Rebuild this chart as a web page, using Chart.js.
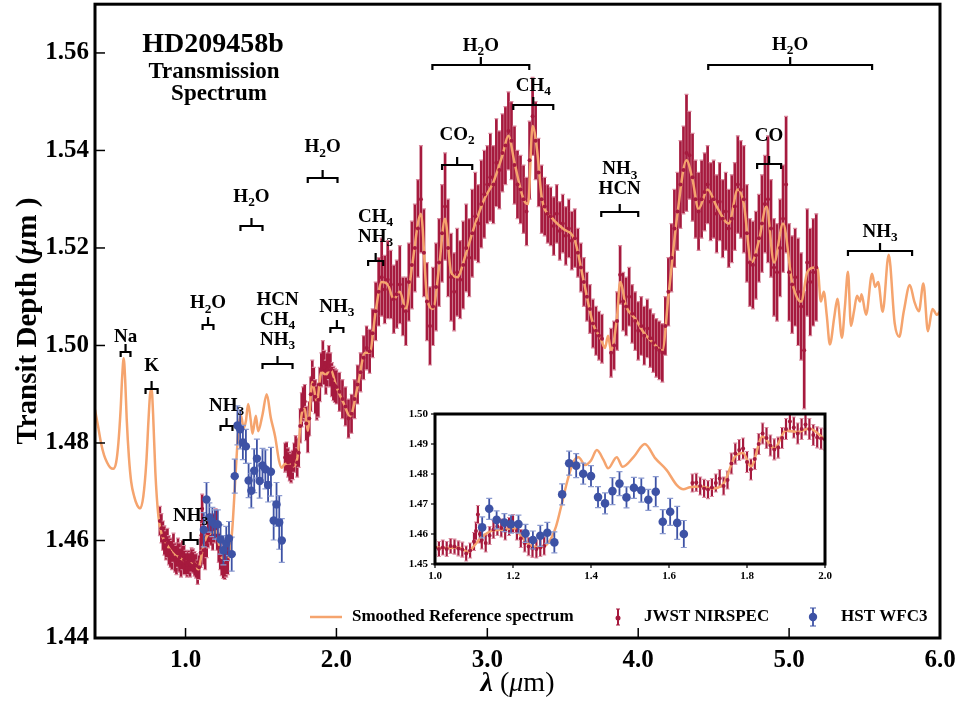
<!DOCTYPE html>
<html>
<head>
<meta charset="utf-8">
<script src="https://cdn.jsdelivr.net/npm/chart.js@4.4.1/dist/chart.umd.min.js"></script>
<style>
  body { margin: 0; background: #fff; }
  #wrap { position: relative; width: 965px; height: 702px; }
  #main { position: absolute; left: 0; top: 0; }
  #inset { position: absolute; left: 395px; top: 404px; }
</style>
</head>
<body>
<div id="wrap">
  <canvas id="main" width="965" height="702"></canvas>
  <canvas id="inset" width="440" height="180"></canvas>
</div>
<script>
// smoothed reference model spectrum (micron, transit depth)
var refWave = [0.40, 0.42, 0.44, 0.46, 0.48, 0.50, 0.52, 0.54, 0.555, 0.57,
  0.58, 0.59, 0.60, 0.61, 0.625, 0.64, 0.66, 0.68, 0.70, 0.72,
  0.74, 0.755, 0.765, 0.775, 0.785, 0.80, 0.82, 0.84, 0.87, 0.90,
  0.93, 0.96, 1.00, 1.03, 1.06, 1.085, 1.10, 1.12, 1.15, 1.18,
  1.20, 1.22, 1.24, 1.27, 1.29, 1.31, 1.325, 1.34, 1.355, 1.368,
  1.385, 1.40, 1.415, 1.432, 1.444, 1.466, 1.481, 1.51, 1.538, 1.565,
  1.594, 1.62, 1.637, 1.654, 1.68, 1.71, 1.74, 1.77, 1.79, 1.81,
  1.84, 1.87, 1.90, 1.93, 1.96, 2.00, 2.05, 2.09, 2.14, 2.19,
  2.22, 2.26, 2.30, 2.34, 2.38, 2.42, 2.46, 2.50, 2.56, 2.60,
  2.64, 2.68, 2.72, 2.76, 2.80, 2.86, 2.92, 2.98, 3.04, 3.10,
  3.14, 3.18, 3.24, 3.27, 3.30, 3.33, 3.36, 3.42, 3.50, 3.58,
  3.64, 3.70, 3.75, 3.78, 3.80, 3.82, 3.86, 3.88, 3.92, 3.98,
  4.04, 4.10, 4.16, 4.20, 4.26, 4.32, 4.36, 4.40, 4.46, 4.52,
  4.60, 4.66, 4.70, 4.75, 4.80, 4.85, 4.90, 4.96, 5.02, 5.08,
  5.12, 5.17, 5.19, 5.21, 5.23, 5.25, 5.27, 5.30, 5.32, 5.35,
  5.37, 5.39, 5.41, 5.43, 5.45, 5.47, 5.48, 5.51, 5.55, 5.57,
  5.59, 5.62, 5.66, 5.70, 5.73, 5.76, 5.80, 5.83, 5.86, 5.89,
  5.92, 5.95, 5.98, 6.00];
var refDepth = [1.4868, 1.4835, 1.4800, 1.4775, 1.4760, 1.4750, 1.4747, 1.4760, 1.4800, 1.4870,
  1.4935, 1.4974, 1.4930, 1.4850, 1.4770, 1.4720, 1.4690, 1.4672, 1.4666, 1.4690,
  1.4760, 1.4850, 1.4900, 1.4910, 1.4860, 1.4740, 1.4650, 1.4615, 1.4595, 1.4580,
  1.4570, 1.4565, 1.4556, 1.4553, 1.4555, 1.4540, 1.4560, 1.4590, 1.4612, 1.4615,
  1.4620, 1.4595, 1.4565, 1.4556, 1.4570, 1.4624, 1.4700, 1.4780, 1.4841, 1.4856,
  1.4830, 1.4845, 1.4880, 1.4847, 1.4819, 1.4856, 1.4824, 1.4858, 1.4900, 1.4852,
  1.4813, 1.4763, 1.4749, 1.4756, 1.4758, 1.4752, 1.4768, 1.4860, 1.4870, 1.4825,
  1.4925, 1.4885, 1.4945, 1.4940, 1.4952, 1.4915, 1.4880, 1.4855, 1.4915, 1.4985,
  1.4985, 1.5070, 1.5130, 1.5125, 1.5095, 1.5110, 1.5075, 1.5160, 1.5270, 1.5100,
  1.5075, 1.5160, 1.5260, 1.5150, 1.5140, 1.5190, 1.5250, 1.5300, 1.5335, 1.5390,
  1.5430, 1.5375, 1.5300, 1.5290, 1.5450, 1.5400, 1.5305, 1.5265, 1.5240, 1.5215,
  1.5130, 1.5045, 1.5015, 1.4995, 1.5020, 1.4990, 1.5060, 1.5130, 1.5080, 1.5055,
  1.5025, 1.5005, 1.4990, 1.5100, 1.5270, 1.5380, 1.5340, 1.5280, 1.5320, 1.5285,
  1.5250, 1.5320, 1.5290, 1.5170, 1.5215, 1.5285, 1.5170, 1.5250, 1.5130, 1.5090,
  1.5150, 1.5160, 1.5157, 1.5090, 1.5110, 1.5060, 1.5002, 1.5060, 1.5096, 1.5016,
  1.5080, 1.5151, 1.5040, 1.5070, 1.5102, 1.5090, 1.5105, 1.5063, 1.5147, 1.5120,
  1.5130, 1.5069, 1.5186, 1.5045, 1.5018, 1.5070, 1.5124, 1.5090, 1.5070, 1.5127,
  1.5029, 1.5075, 1.5063, 1.5070];

// JWST NIRSpec points
var jwstWave = [0.83, 0.84, 0.85, 0.86, 0.87, 0.88, 0.89, 0.90, 0.91, 0.92,
  0.93, 0.94, 0.95, 0.96, 0.97, 0.98, 0.99, 1.00, 1.01, 1.02,
  1.03, 1.04, 1.05, 1.06, 1.07, 1.08, 1.09, 1.10, 1.105, 1.11,
  1.115, 1.12, 1.13, 1.14, 1.15, 1.16, 1.17, 1.18, 1.19, 1.20,
  1.21, 1.22, 1.23, 1.24, 1.25, 1.26, 1.27, 1.28,
  1.66, 1.67, 1.68, 1.69, 1.70, 1.71, 1.72, 1.73, 1.74, 1.75,
  1.76, 1.77, 1.78, 1.79, 1.80, 1.81, 1.82, 1.83, 1.84, 1.85,
  1.86, 1.87, 1.88, 1.89, 1.90, 1.91, 1.92, 1.93, 1.94, 1.95,
  1.96, 1.97, 1.98, 1.99, 2.00,
  2.02, 2.04, 2.06, 2.08, 2.10, 2.12, 2.14, 2.16, 2.18, 2.20,
  2.22, 2.24, 2.26, 2.28, 2.30, 2.32, 2.34, 2.36, 2.38, 2.40,
  2.42, 2.44, 2.46, 2.48, 2.50, 2.52, 2.54, 2.56, 2.58, 2.60,
  2.62, 2.64, 2.66, 2.68, 2.70, 2.72, 2.74, 2.76, 2.78, 2.80,
  2.82, 2.84, 2.86, 2.88, 2.90, 2.92, 2.94, 2.96, 2.98, 3.00,
  3.02, 3.04, 3.06, 3.08, 3.10, 3.12, 3.14, 3.16, 3.18, 3.20,
  3.22, 3.24, 3.26, 3.28, 3.30, 3.32, 3.34, 3.36, 3.38, 3.40,
  3.42, 3.44, 3.46, 3.48, 3.50, 3.52, 3.54, 3.56, 3.58, 3.60,
  3.62, 3.64, 3.66, 3.68, 3.70, 3.72, 3.74, 3.76, 3.82, 3.84,
  3.86, 3.88, 3.90, 3.92, 3.94, 3.96, 3.98, 4.00, 4.02, 4.04,
  4.06, 4.08, 4.10, 4.12, 4.14, 4.16, 4.18, 4.20, 4.22, 4.24,
  4.26, 4.28, 4.30, 4.32, 4.34, 4.36, 4.38, 4.40, 4.42, 4.44,
  4.46, 4.48, 4.50, 4.52, 4.54, 4.56, 4.58, 4.60, 4.62, 4.64,
  4.66, 4.68, 4.70, 4.72, 4.74, 4.76, 4.78, 4.80, 4.82, 4.84,
  4.86, 4.88, 4.90, 4.92, 4.94, 4.96, 4.98, 5.00, 5.02, 5.04,
  5.06, 5.08, 5.10, 5.12, 5.14, 5.16, 5.18];
var jwstDepth = [1.4640, 1.4625, 1.4610, 1.4600, 1.4590, 1.4595, 1.4580, 1.4575, 1.4570, 1.4585,
  1.4565, 1.4560, 1.4575, 1.4565, 1.4555, 1.4570, 1.4560, 1.4555, 1.4550, 1.4555,
  1.4550, 1.4560, 1.4558, 1.4552, 1.4548, 1.4535, 1.4545, 1.4575, 1.4610, 1.4665,
  1.4600, 1.4580, 1.4570, 1.4595, 1.4615, 1.4625, 1.4620, 1.4610, 1.4625, 1.4635,
  1.4610, 1.4585, 1.4570, 1.4558, 1.4552, 1.4550, 1.4555, 1.4560,
  1.4770, 1.4772, 1.4760, 1.4752, 1.4748, 1.4755, 1.4770, 1.4785, 1.4760, 1.4780,
  1.4835, 1.4868, 1.4880, 1.4885, 1.4840, 1.4815, 1.4850, 1.4900, 1.4935, 1.4920,
  1.4895, 1.4882, 1.4888, 1.4920, 1.4950, 1.4975, 1.4955, 1.4935, 1.4950, 1.4965,
  1.4950, 1.4930, 1.4922, 1.4918, 1.4915,
  1.4905, 1.4890, 1.4875, 1.4850, 1.4860, 1.4890, 1.4920, 1.4945, 1.4975, 1.4995,
  1.4988, 1.5025, 1.5070, 1.5110, 1.5140, 1.5115, 1.5135, 1.5125, 1.5095, 1.5105,
  1.5125, 1.5080, 1.5070, 1.5130, 1.5165, 1.5200, 1.5240, 1.5300, 1.5190, 1.5090,
  1.5040, 1.5080, 1.5120, 1.5170, 1.5230, 1.5285, 1.5200, 1.5140, 1.5110, 1.5150,
  1.5135, 1.5165, 1.5200, 1.5180, 1.5230, 1.5265, 1.5250, 1.5290, 1.5310, 1.5330,
  1.5345, 1.5330, 1.5375, 1.5360, 1.5395, 1.5410, 1.5440, 1.5420, 1.5370, 1.5330,
  1.5320, 1.5300, 1.5275, 1.5380, 1.5470, 1.5420, 1.5355, 1.5300, 1.5285, 1.5270,
  1.5265, 1.5245, 1.5270, 1.5235, 1.5250, 1.5225, 1.5240, 1.5215, 1.5220, 1.5190,
  1.5160, 1.5130, 1.5100, 1.5075, 1.5045, 1.5030, 1.5020, 1.5014, 1.4985, 1.5000,
  1.5050, 1.5145, 1.5090, 1.5080, 1.5100, 1.5065, 1.5050, 1.5030, 1.5040, 1.5020,
  1.5035, 1.5015, 1.5005, 1.4995, 1.4990, 1.4985, 1.5040, 1.5110, 1.5180, 1.5240,
  1.5275, 1.5330, 1.5360, 1.5395, 1.5390, 1.5345, 1.5300, 1.5275, 1.5300, 1.5315,
  1.5330, 1.5295, 1.5300, 1.5270, 1.5295, 1.5260, 1.5275, 1.5240, 1.5260, 1.5285,
  1.5330, 1.5320, 1.5300, 1.5230, 1.5170, 1.5165, 1.5185, 1.5220, 1.5250, 1.5290,
  1.5300, 1.5240, 1.5160, 1.5150, 1.5200, 1.5260, 1.5330, 1.5150, 1.5125, 1.5140,
  1.5110, 1.5080, 1.4990, 1.5170, 1.5130, 1.5150, 1.5160];
var jwstErr = [0.003, 0.003, 0.003, 0.003, 0.003, 0.003, 0.003, 0.003, 0.003, 0.003,
  0.003, 0.003, 0.003, 0.003, 0.003, 0.003, 0.003, 0.0025, 0.0025, 0.0025,
  0.0025, 0.0025, 0.0025, 0.0025, 0.0025, 0.0025, 0.0025, 0.003, 0.003, 0.003,
  0.003, 0.003, 0.003, 0.003, 0.003, 0.003, 0.003, 0.003, 0.003, 0.003,
  0.003, 0.003, 0.003, 0.003, 0.003, 0.003, 0.003, 0.003,
  0.003, 0.003, 0.003, 0.003, 0.003, 0.003, 0.003, 0.003, 0.003, 0.003,
  0.0035, 0.0035, 0.0035, 0.0035, 0.0035, 0.0035, 0.0035, 0.0035, 0.0035, 0.0035,
  0.0035, 0.0035, 0.0035, 0.0035, 0.0035, 0.0035, 0.0035, 0.0035, 0.0035, 0.0035,
  0.0035, 0.0035, 0.0035, 0.0035, 0.0035,
  0.004, 0.004, 0.004, 0.004, 0.004, 0.004, 0.004, 0.004, 0.0045, 0.0045,
  0.0045, 0.005, 0.006, 0.007, 0.008, 0.007, 0.008, 0.007, 0.007, 0.007,
  0.008, 0.006, 0.007, 0.008, 0.009, 0.009, 0.010, 0.011, 0.009, 0.008,
  0.008, 0.008, 0.009, 0.009, 0.010, 0.011, 0.010, 0.009, 0.008, 0.009,
  0.008, 0.009, 0.009, 0.008, 0.009, 0.009, 0.008, 0.009, 0.009, 0.008,
  0.009, 0.008, 0.009, 0.008, 0.008, 0.008, 0.008, 0.008, 0.008, 0.007,
  0.007, 0.007, 0.007, 0.008, 0.008, 0.008, 0.007, 0.007, 0.006, 0.006,
  0.006, 0.006, 0.006, 0.006, 0.006, 0.006, 0.006, 0.006, 0.006, 0.005,
  0.005, 0.005, 0.005, 0.005, 0.005, 0.005, 0.005, 0.005, 0.005, 0.005,
  0.006, 0.006, 0.006, 0.006, 0.006, 0.006, 0.006, 0.006, 0.006, 0.006,
  0.006, 0.006, 0.006, 0.006, 0.006, 0.006, 0.006, 0.007, 0.007, 0.008,
  0.008, 0.009, 0.009, 0.012, 0.009, 0.009, 0.008, 0.008, 0.008, 0.008,
  0.008, 0.008, 0.008, 0.008, 0.008, 0.008, 0.008, 0.008, 0.009, 0.009,
  0.010, 0.010, 0.011, 0.010, 0.009, 0.009, 0.009, 0.009, 0.010, 0.010,
  0.013, 0.010, 0.010, 0.010, 0.010, 0.011, 0.014, 0.010, 0.010, 0.010,
  0.011, 0.011, 0.012, 0.011, 0.011, 0.011, 0.011];

// HST WFC3 points
var hstWave = [1.121, 1.139, 1.158, 1.178, 1.195, 1.214, 1.232, 1.251, 1.270, 1.288,
  1.306, 1.326, 1.344, 1.362, 1.380, 1.400, 1.418, 1.436, 1.455, 1.473,
  1.491, 1.510, 1.529, 1.547, 1.566, 1.584, 1.603, 1.621, 1.638];
var hstDepth = [1.4622, 1.4684, 1.4647, 1.4638, 1.4633, 1.4633, 1.4602, 1.4580, 1.4594, 1.4604,
  1.4572, 1.4732, 1.4836, 1.4828, 1.4801, 1.4793, 1.4723, 1.4702, 1.4743, 1.4768,
  1.4722, 1.4754, 1.4746, 1.4714, 1.4741, 1.4641, 1.4674, 1.4637, 1.4600];
var hstErr = [0.0035, 0.0035, 0.003, 0.003, 0.003, 0.003, 0.003, 0.003, 0.0035, 0.0035,
  0.0035, 0.0035, 0.004, 0.004, 0.0035, 0.0035, 0.0035, 0.0035, 0.0045, 0.004,
  0.0035, 0.0035, 0.004, 0.0035, 0.005, 0.004, 0.0045, 0.0055, 0.0045];

// molecule markers: label lines, wavelength span, bracket level, label baseline
var featureNames = [['Na'], ['K'], ['H_2O'], ['HCN', 'CH_4', 'NH_3'], ['NH_3'], ['NH_3'], ['NH_3'],
  ['H_2O'], ['H_2O'], ['CH_4', 'NH_3'], ['CO_2'], ['H_2O'], ['CH_4'], ['NH_3', 'HCN'],
  ['H_2O'], ['CO'], ['NH_3']];
var featureFrom = [0.57, 0.735, 1.113, 1.51, 1.96, 1.232, 0.987, 1.364, 1.81, 2.21, 2.70, 2.636, 3.172, 3.755, 4.464, 4.788, 5.39];
var featureTo = [0.635, 0.815, 1.185, 1.709, 2.046, 1.311, 1.08, 1.51, 2.007, 2.31, 2.90, 3.278, 3.437, 4.0, 5.55, 4.947, 5.815];
var featureLevel = [1.4986, 1.4910, 1.5043, 1.4963, 1.5035, 1.4835, 1.4600, 1.5245, 1.5343, 1.5173, 1.5371, 1.5576, 1.5494, 1.5273, 1.5576, 1.5373, 1.5194];
var featureText = [1.5008, 1.4947, 1.5076, 1.5002, 1.5069, 1.4865, 1.4641, 1.5294, 1.5396, 1.5212, 1.5422, 1.5604, 1.5522, 1.5310, 1.5606, 1.5420, 1.5222];

var xTicks = [1, 2, 3, 4, 5, 6];
var yTicks = [1.44, 1.46, 1.48, 1.50, 1.52, 1.54, 1.56];
var insetXTicks = [1.0, 1.2, 1.4, 1.6, 1.8, 2.0];
var insetYTicks = [1.45, 1.46, 1.47, 1.48, 1.49, 1.50];
var legendNames = ['Smoothed Reference spectrum', 'JWST NIRSPEC', 'HST WFC3'];

var FONT = "'Liberation Serif', 'DejaVu Serif', serif";
var RED = '#A61A3E', RED_CAP = '#D98A9E', ORANGE = '#F5A46E', BLUE = '#3D52A5', BLUE_CAP = '#8C9BD0';

Chart.defaults.font.family = FONT;
Chart.defaults.color = '#000';

function toPoints(xs, ys) {
    return xs.map(function (x, i) { return { x: x, y: ys[i] }; });
}

function fontStr(size, weight, style) {
    return (style || 'normal') + ' ' + (weight || 'bold') + ' ' + size + 'px ' + FONT;
}

// text with "_" subscripts, centred on cx
function drawRich(ctx, str, cx, baseline, size) {
    var runs = [], i = 0;
    while (i < str.length) {
        if (str[i] === '_') {
            runs.push({ t: str[i + 1], sub: true });
            i += 2;
        } else {
            var j = i;
            while (j < str.length && str[j] !== '_') j++;
            runs.push({ t: str.slice(i, j), sub: false });
            i = j;
        }
    }
    var total = 0;
    runs.forEach(function (r) {
        ctx.font = fontStr(r.sub ? size * 0.7 : size);
        r.w = ctx.measureText(r.t).width;
        total += r.w;
    });
    var x = cx - total / 2;
    ctx.textAlign = 'left';
    ctx.textBaseline = 'alphabetic';
    runs.forEach(function (r) {
        ctx.font = fontStr(r.sub ? size * 0.7 : size);
        ctx.fillText(r.t, x, baseline + (r.sub ? size * 0.22 : 0));
        x += r.w;
    });
}

// runs of text with their own fonts, centred on cx
function drawRuns(ctx, runs, cx, baseline) {
    var total = 0;
    runs.forEach(function (r) { ctx.font = r.f; r.w = ctx.measureText(r.t).width; total += r.w; });
    var x = cx - total / 2;
    ctx.textAlign = 'left';
    ctx.textBaseline = 'alphabetic';
    runs.forEach(function (r) { ctx.font = r.f; ctx.fillText(r.t, x, baseline); x += r.w; });
}

function drawErrors(chart, ds, st) {
    var ctx = chart.ctx, a = chart.chartArea, xs = chart.scales.x, ys = chart.scales.y;
    ctx.save();
    ctx.beginPath();
    ctx.rect(a.left, a.top, a.right - a.left, a.bottom - a.top);
    ctx.clip();
    ds.data.forEach(function (p, i) {
        var px = xs.getPixelForValue(p.x);
        if (px < a.left - 6 || px > a.right + 6) return;
        var t = ys.getPixelForValue(p.y + ds.errors[i]);
        var b = ys.getPixelForValue(p.y - ds.errors[i]);
        ctx.strokeStyle = st.color;
        ctx.lineWidth = st.width;
        ctx.beginPath();
        ctx.moveTo(px, t);
        ctx.lineTo(px, b);
        ctx.stroke();
        ctx.strokeStyle = st.cap;
        ctx.lineWidth = 1.2;
        ctx.beginPath();
        ctx.moveTo(px - st.capW, t); ctx.lineTo(px + st.capW, t);
        ctx.moveTo(px - st.capW, b); ctx.lineTo(px + st.capW, b);
        ctx.stroke();
    });
    ctx.restore();
}

var errorBarPlugin = {
    id: 'errorBars',
    beforeDatasetsDraw: function (chart, args, o) {
        chart.data.datasets.forEach(function (ds) {
            if (ds.errKind === 'under') drawErrors(chart, ds, o.jwst);
        });
    },
    beforeDatasetDraw: function (chart, args, o) {
        var ds = chart.data.datasets[args.index];
        if (ds.errKind === 'over') drawErrors(chart, ds, o.hst);
    }
};

var panelPlugin = {
    id: 'panel',
    beforeDraw: function (chart) {
        var a = chart.chartArea, ctx = chart.ctx;
        ctx.save();
        ctx.fillStyle = '#fff';
        ctx.fillRect(a.left, a.top, a.right - a.left, a.bottom - a.top);
        ctx.restore();
    },
    afterDraw: function (chart, args, o) {
        var ctx = chart.ctx, a = chart.chartArea;
        var d = o.inward ? 1 : -1;
        ctx.save();
        ctx.strokeStyle = '#000';
        ctx.lineWidth = o.tickWidth;
        chart.scales.x.ticks.forEach(function (t) {
            var px = chart.scales.x.getPixelForValue(t.value);
            ctx.beginPath();
            ctx.moveTo(px, a.bottom);
            ctx.lineTo(px, a.bottom - d * o.tickLen);
            ctx.stroke();
        });
        chart.scales.y.ticks.forEach(function (t) {
            var py = chart.scales.y.getPixelForValue(t.value);
            ctx.beginPath();
            ctx.moveTo(a.left, py);
            ctx.lineTo(a.left + d * o.tickLen, py);
            ctx.stroke();
        });
        ctx.lineWidth = o.border;
        ctx.strokeRect(a.left, a.top, a.right - a.left, a.bottom - a.top);
        ctx.restore();
    }
};

var decorPlugin = {
    id: 'decor',
    afterDatasetsDraw: function (chart) {
        var ctx = chart.ctx, a = chart.chartArea, xs = chart.scales.x, ys = chart.scales.y;
        ctx.save();
        ctx.fillStyle = '#000';
        ctx.strokeStyle = '#000';

        // molecule brackets
        ctx.lineWidth = 2.2;
        featureNames.forEach(function (lines, i) {
            var x1 = xs.getPixelForValue(featureFrom[i]);
            var x2 = xs.getPixelForValue(featureTo[i]);
            var y = Math.round(ys.getPixelForValue(featureLevel[i]));
            var xc = (x1 + x2) / 2;
            ctx.beginPath();
            ctx.moveTo(x1, y + 5); ctx.lineTo(x1, y); ctx.lineTo(x2, y); ctx.lineTo(x2, y + 5);
            ctx.moveTo(xc, y); ctx.lineTo(xc, y - 8);
            ctx.stroke();
            var base = ys.getPixelForValue(featureText[i]);
            for (var k = lines.length - 1; k >= 0; k--) {
                drawRich(ctx, lines[k], xc, base - (lines.length - 1 - k) * 20, 19);
            }
        });

        // title block
        ctx.textAlign = 'center';
        ctx.textBaseline = 'alphabetic';
        ctx.font = fontStr(28);
        ctx.fillText('HD209458b', a.left + 118, a.top + 48);
        ctx.font = fontStr(23);
        ctx.fillText('Transmission', a.left + 119, a.top + 74);
        ctx.fillText('Spectrum', a.left + 124, a.top + 96);

        // legend
        var ly = a.bottom - 21;
        ctx.strokeStyle = ORANGE;
        ctx.lineWidth = 2.5;
        ctx.beginPath(); ctx.moveTo(310, ly); ctx.lineTo(342, ly); ctx.stroke();
        ctx.strokeStyle = RED; ctx.lineWidth = 2;
        ctx.beginPath(); ctx.moveTo(618, ly - 8); ctx.lineTo(618, ly + 8); ctx.stroke();
        ctx.lineWidth = 1.2;
        ctx.beginPath(); ctx.moveTo(616, ly - 8); ctx.lineTo(620, ly - 8); ctx.moveTo(616, ly + 8); ctx.lineTo(620, ly + 8); ctx.stroke();
        ctx.fillStyle = RED;
        ctx.beginPath(); ctx.arc(618, ly + 1, 2.5, 0, Math.PI * 2); ctx.fill();
        ctx.strokeStyle = BLUE; ctx.lineWidth = 1.8;
        ctx.beginPath(); ctx.moveTo(813, ly - 9); ctx.lineTo(813, ly + 9); ctx.stroke();
        ctx.lineWidth = 1.2;
        ctx.beginPath(); ctx.moveTo(810, ly - 9); ctx.lineTo(816, ly - 9); ctx.moveTo(810, ly + 9); ctx.lineTo(816, ly + 9); ctx.stroke();
        ctx.fillStyle = BLUE;
        ctx.beginPath(); ctx.arc(813, ly, 4.2, 0, Math.PI * 2); ctx.fill();
        ctx.fillStyle = '#000';
        ctx.font = fontStr(17);
        ctx.textAlign = 'left';
        ctx.textBaseline = 'middle';
        ctx.fillText(legendNames[0], 352, ly);
        ctx.fillText(legendNames[1], 644, ly);
        ctx.fillText(legendNames[2], 841, ly);

        // axis titles
        drawRuns(ctx, [
            { t: '\u03bb', f: fontStr(28, 'bold', 'italic') },
            { t: ' (', f: fontStr(28, 'normal') },
            { t: '\u03bc', f: fontStr(28, 'normal', 'italic') },
            { t: 'm)', f: fontStr(28, 'normal') }
        ], (a.left + a.right) / 2, 691);
        ctx.translate(36, (a.top + a.bottom) / 2);
        ctx.rotate(-Math.PI / 2);
        drawRuns(ctx, [
            { t: 'Transit Depth (', f: fontStr(29) },
            { t: '\u03bc', f: fontStr(29, 'bold', 'italic') },
            { t: 'm )', f: fontStr(29) }
        ], 0, 0);
        ctx.restore();
    }
};

function buildDatasets(dotR, hstR) {
    return [
        {
            label: legendNames[0],
            data: toPoints(refWave, refDepth),
            showLine: true,
            borderColor: ORANGE,
            borderWidth: 2.5,
            pointRadius: 0,
            cubicInterpolationMode: 'monotone',
            order: 2
        },
        {
            label: legendNames[1],
            data: toPoints(jwstWave, jwstDepth),
            errors: jwstErr,
            errKind: 'under',
            showLine: false,
            pointRadius: dotR,
            pointBackgroundColor: RED,
            pointBorderWidth: 0,
            order: 1
        },
        {
            label: legendNames[2],
            data: toPoints(hstWave, hstDepth),
            errors: hstErr,
            errKind: 'over',
            showLine: false,
            pointRadius: hstR,
            pointBackgroundColor: BLUE,
            pointBorderWidth: 0,
            order: 0
        }
    ];
}

// drop the label overhang padding so the plot box sits where the axes say
function noOverhang(s) {
    s.paddingTop = 0;
    s.paddingBottom = 0;
    s.paddingLeft = 0;
    s.paddingRight = 0;
}

new Chart(document.getElementById('main'), {
    type: 'scatter',
    data: { datasets: buildDatasets(2, 4.2) },
    plugins: [errorBarPlugin, decorPlugin, panelPlugin],
    options: {
        responsive: false,
        animation: false,
        devicePixelRatio: 1,
        events: [],
        layout: { padding: { top: 2, right: 25, left: 0, bottom: 0 } },
        plugins: {
            legend: { display: false },
            tooltip: { enabled: false },
            errorBars: {
                jwst: { color: RED, cap: RED_CAP, width: 2.7, capW: 2 },
                hst: { color: BLUE, cap: BLUE_CAP, width: 1.8, capW: 3 }
            },
            panel: { inward: true, tickLen: 10, tickWidth: 1.5, border: 3 }
        },
        scales: {
            x: {
                type: 'linear',
                min: 0.4,
                max: 6.0,
                afterBuildTicks: function (s) { s.ticks = xTicks.map(function (v) { return { value: v }; }); },
                afterFit: function (s) { s.height = 64; noOverhang(s); },
                grid: { display: false, drawTicks: false },
                border: { display: false },
                ticks: {
                    padding: 8,
                    autoSkip: false,
                    maxRotation: 0,
                    color: '#000',
                    font: { size: 25, weight: 'bold' },
                    callback: function (v) { return v.toFixed(1); }
                }
            },
            y: {
                min: 1.44,
                max: 1.57,
                afterBuildTicks: function (s) { s.ticks = yTicks.map(function (v) { return { value: v }; }); },
                afterFit: function (s) { s.width = 95; noOverhang(s); },
                grid: { display: false, drawTicks: false },
                border: { display: false },
                ticks: {
                    padding: 6,
                    color: '#000',
                    font: { size: 25, weight: 'bold' },
                    callback: function (v) { return v.toFixed(2); }
                }
            }
        }
    }
});

new Chart(document.getElementById('inset'), {
    type: 'scatter',
    data: { datasets: buildDatasets(2, 4.3) },
    plugins: [panelPlugin, errorBarPlugin],
    options: {
        responsive: false,
        animation: false,
        devicePixelRatio: 1,
        events: [],
        layout: { padding: { top: 10, right: 10, left: 0, bottom: 0 } },
        plugins: {
            legend: { display: false },
            tooltip: { enabled: false },
            errorBars: {
                jwst: { color: RED, cap: RED_CAP, width: 2.2, capW: 2 },
                hst: { color: BLUE, cap: BLUE_CAP, width: 1.8, capW: 3 }
            },
            panel: { inward: false, tickLen: 4, tickWidth: 1.2, border: 3 }
        },
        scales: {
            x: {
                type: 'linear',
                min: 1.0,
                max: 2.0,
                afterBuildTicks: function (s) { s.ticks = insetXTicks.map(function (v) { return { value: v }; }); },
                afterFit: function (s) { s.height = 20; noOverhang(s); },
                grid: { display: false, drawTicks: false },
                border: { display: false },
                ticks: {
                    padding: 6,
                    autoSkip: false,
                    maxRotation: 0,
                    color: '#000',
                    font: { size: 11, weight: 'bold' },
                    callback: function (v) { return v.toFixed(1); }
                }
            },
            y: {
                min: 1.45,
                max: 1.50,
                afterBuildTicks: function (s) { s.ticks = insetYTicks.map(function (v) { return { value: v }; }); },
                afterFit: function (s) { s.width = 40; noOverhang(s); },
                grid: { display: false, drawTicks: false },
                border: { display: false },
                ticks: {
                    padding: 7,
                    color: '#000',
                    font: { size: 11, weight: 'bold' },
                    callback: function (v) { return v.toFixed(2); }
                }
            }
        }
    }
});
</script>
</body>
</html>
